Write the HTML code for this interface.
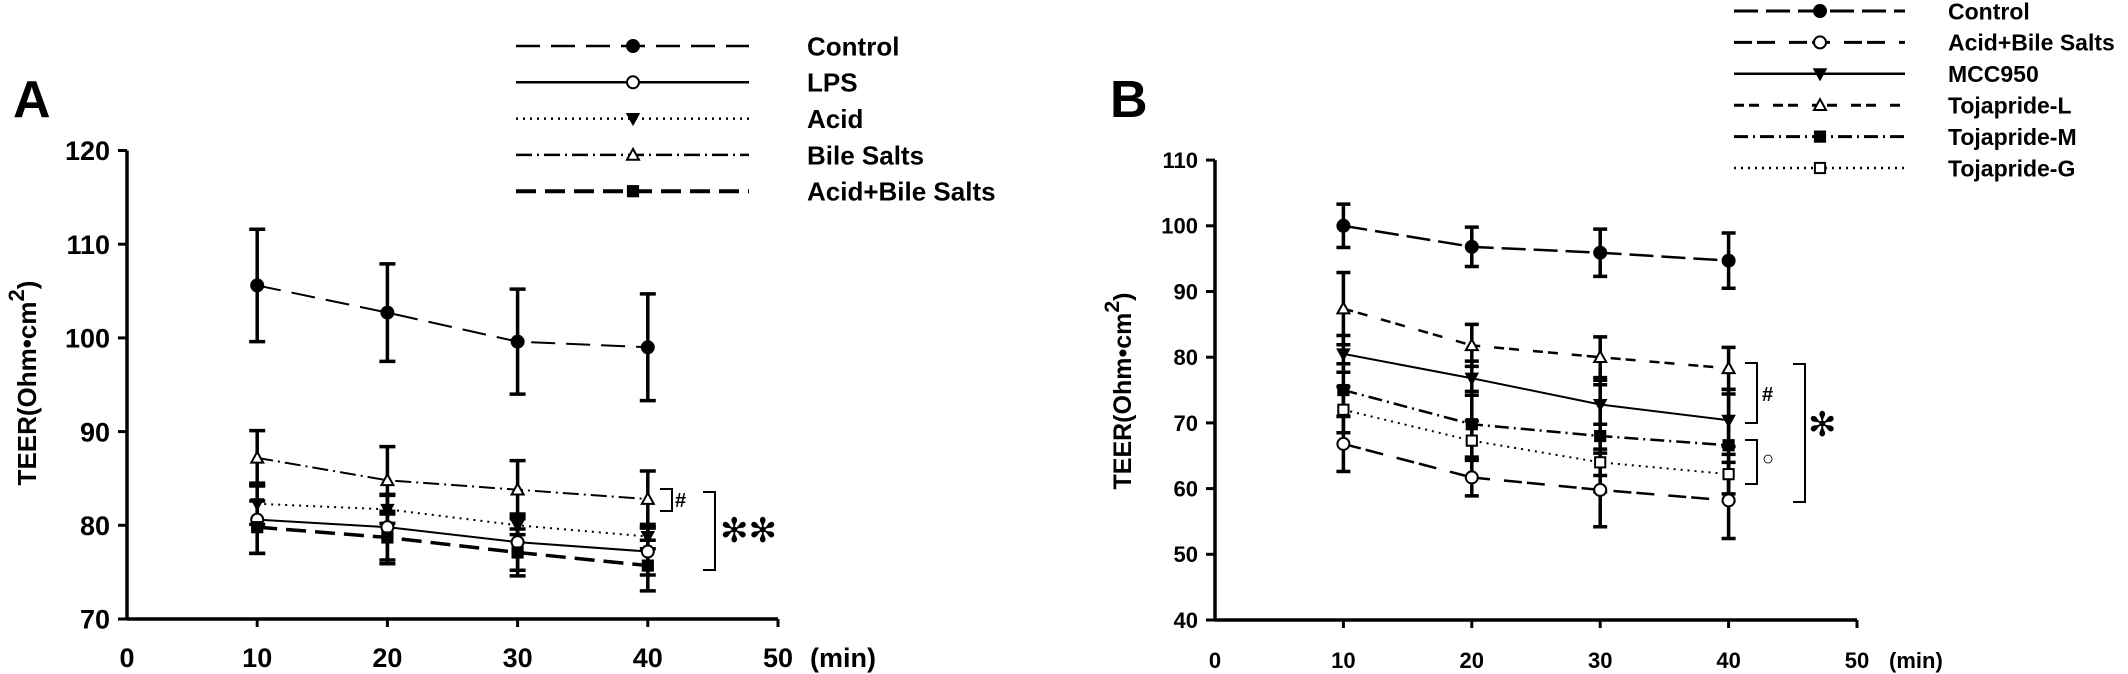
<!DOCTYPE html>
<html><head><meta charset="utf-8"><style>
html,body{margin:0;padding:0;background:#fff;}
svg{display:block;font-family:"Liberation Sans",Arial,sans-serif;font-weight:bold;}
</style></head><body>
<svg id="chart" width="2128" height="674" viewBox="0 0 2128 674" xmlns="http://www.w3.org/2000/svg">
<g id="panelA"></g>
<g id="panelB"></g>
</svg>
<script>
const NS="http://www.w3.org/2000/svg";
// ---- data (panel A) ----
const timesA=[10,20,30,40];
const ticksAY=[70,80,90,100,110,120];
const ticksX=[0,10,20,30,40,50];
const controlA=[105.6,102.7,99.6,99.0];
const controlAErr=[6.0,5.2,5.6,5.7];
const lpsA=[80.6,79.8,78.2,77.2];
const lpsAErr=[3.6,3.5,3.0,2.5];
const acidA=[82.3,81.7,80.0,78.8];
const acidAErr=[2.2,1.5,1.0,1.3];
const bileA=[87.2,84.8,83.8,82.8];
const bileAErr=[2.9,3.6,3.1,3.0];
const abA=[79.8,78.7,77.1,75.7];
const abAErr=[2.8,2.8,2.5,2.7];
// ---- data (panel B) ----
const timesB=[10,20,30,40];
const ticksBY=[40,50,60,70,80,90,100,110];
const controlB=[100.0,96.8,95.9,94.7];
const controlBErr=[3.3,3.0,3.6,4.2];
const abB=[66.8,61.7,59.8,58.2];
const abBErr=[4.2,2.8,5.6,5.8];
const mccB=[80.5,76.8,72.8,70.4];
const mccBErr=[2.8,2.6,3.0,4.0];
const tojLB=[87.4,81.8,80.0,78.3];
const tojLBErr=[5.5,3.2,3.1,3.2];
const tojMB=[75.0,69.8,68.0,66.6];
const tojMBErr=[4.0,5.0,8.5,8.5];
const tojGB=[72.0,67.3,64.0,62.2];
const tojGBErr=[3.5,3.0,2.0,3.0];

function el(tag,attrs,parent){const e=document.createElementNS(NS,tag);for(const k in attrs)e.setAttribute(k,attrs[k]);parent.appendChild(e);return e;}

function marker(g,type,cx,cy,s){
  let m;
  if(type==='fcircle'||type==='ocircle'){m=el('circle',{cx:cx,cy:cy,r:s,fill:type==='fcircle'?'#000':'#fff',stroke:'#000','stroke-width':2},g);}
  else if(type==='ftridown'){m=el('polygon',{points:`${cx-s},${cy-s*0.8} ${cx+s},${cy-s*0.8} ${cx},${cy+s}`,fill:'#000',stroke:'#000','stroke-width':1.5},g);}
  else if(type==='otri'){m=el('polygon',{points:`${cx-s},${cy+s*0.8} ${cx+s},${cy+s*0.8} ${cx},${cy-s}`,fill:'#fff',stroke:'#000','stroke-width':2},g);}
  else if(type==='fsquare'||type==='osquare'){m=el('rect',{x:cx-s*0.85,y:cy-s*0.85,width:s*1.7,height:s*1.7,fill:type==='fsquare'?'#000':'#fff',stroke:'#000','stroke-width':2},g);}
  return m;
}

function drawPanel(g,cfg){
  const X=v=>cfg.x0+(v-0)*cfg.sx;
  const Y=v=>cfg.yBase-(v-cfg.yMin)*cfg.sy;
  // axes
  const ax=el('line',{x1:cfg.x0,y1:Y(cfg.yTicks[cfg.yTicks.length-1]),x2:cfg.x0,y2:cfg.yBase,stroke:'#000','stroke-width':3.5},g);
  
  const axx=el('line',{x1:cfg.x0,y1:cfg.yBase,x2:X(50),y2:cfg.yBase,stroke:'#000','stroke-width':3.5},g);
  
  cfg.yTicks.forEach(t=>{
    const tk=el('line',{x1:cfg.x0-9,y1:Y(t),x2:cfg.x0,y2:Y(t),stroke:'#000','stroke-width':3},g);
    
    const tx=el('text',{x:cfg.x0-17,y:Y(t)+cfg.tickFont*0.36,'text-anchor':'end','font-size':cfg.tickFont},g);
    tx.textContent=t;
    
  });
  ticksX.forEach(t=>{
    if(t>0){const tk=el('line',{x1:X(t),y1:cfg.yBase,x2:X(t),y2:cfg.yBase+8,stroke:'#000','stroke-width':3},g);
    }
    const tx=el('text',{x:X(t),y:cfg.yBase+48,'text-anchor':'middle','font-size':cfg.tickFont},g);
    tx.textContent=t;
    
  });
  const mn=el('text',{x:X(50)+32,y:cfg.yBase+48,'font-size':cfg.tickFont},g);
  mn.textContent='(min)';
  
  // y title
  const yt=el('text',{x:0,y:0,'text-anchor':'middle','font-size':cfg.titleFont,transform:`translate(${cfg.ytX},${cfg.ytY}) rotate(-90)`},g);
  yt.innerHTML='TEER(Ohm•cm<tspan dy="-12" font-size="'+(cfg.titleFont*0.85)+'">2</tspan><tspan dy="12">)</tspan>';
  
  // panel letter
  const pl=el('text',{x:cfg.letterX,y:117,'font-size':52},g);
  pl.textContent=cfg.letter;
  
  // error bars
  cfg.series.forEach(s=>{
    s.vals.forEach((v,i)=>{
      const x=X(cfg.times[i]);const t=Y(v+s.err[i]),b=Y(v-s.err[i]);
      const eb=el('path',{d:`M${x},${t}V${b}M${x-cfg.cap},${t}H${x+cfg.cap}M${x-cfg.cap},${b}H${x+cfg.cap}`,stroke:'#000','stroke-width':3.5,fill:'none'},g);
      
    });
  });
  // lines
  cfg.series.forEach(s=>{
    const pts=s.vals.map((v,i)=>X(cfg.times[i])+','+Y(v)).join(' ');
    const ln=el('polyline',{points:pts,fill:'none',stroke:'#000','stroke-width':s.w,'stroke-dasharray':s.dash},g);
    
  });
  // markers
  cfg.series.forEach(s=>{
    s.vals.forEach((v,i)=>{
      const m=marker(g,s.marker,X(cfg.times[i]),Y(v),cfg.ms);
      
    });
  });
  // legend
  cfg.series.slice().sort((a,b)=>a.legendRow-b.legendRow).forEach(s=>{
    const ly=cfg.legY0+s.legendRow*cfg.legDy;
    const lg=el('g',{},g);
    
    el('line',{x1:cfg.legX1,y1:ly,x2:cfg.legX2,y2:ly,stroke:'#000','stroke-width':s.w+0.5,'stroke-dasharray':s.dash},lg);
    marker(lg,s.marker,cfg.legM,ly,cfg.ms);
    const lt=el('text',{x:cfg.legText,y:ly+cfg.legFont*0.36,'font-size':cfg.legFont},lg);
    lt.textContent=s.label;
  });
}

drawPanel(document.getElementById('panelA'),{
  letter:'A',letterX:13,x0:127,sx:13.02,yBase:619,yMin:70,sy:9.37,yTicks:ticksAY,times:timesA,
  tickFont:27,titleFont:26,ytX:36,ytY:383,cap:8,ms:6,
  legY0:46,legDy:36.3,legX1:516,legX2:749,legM:633,legText:807,legFont:26,
  series:[
    {key:'control',label:'Control',vals:controlA,err:controlAErr,marker:'fcircle',dash:'24 11',w:2,legendRow:0},
    {key:'lps',label:'LPS',vals:lpsA,err:lpsAErr,marker:'ocircle',dash:'none',w:2,legendRow:1},
    {key:'acid',label:'Acid',vals:acidA,err:acidAErr,marker:'ftridown',dash:'2 5',w:2,legendRow:2},
    {key:'bile-salts',label:'Bile Salts',vals:bileA,err:bileAErr,marker:'otri',dash:'16 5 2 5',w:2,legendRow:3},
    {key:'acid-bile-salts',label:'Acid+Bile Salts',vals:abA,err:abAErr,marker:'fsquare',dash:'20 9',w:3.5,legendRow:4}
  ]
});
drawPanel(document.getElementById('panelB'),{
  letter:'B',letterX:1110,x0:1215,sx:12.84,yBase:620,yMin:40,sy:6.57,yTicks:ticksBY,times:timesB,
  tickFont:22,titleFont:25,ytX:1131,ytY:391,cap:7,ms:6,
  legY0:11,legDy:31.4,legX1:1734,legX2:1905,legM:1820,legText:1948,legFont:23,
  series:[
    {key:'control',label:'Control',vals:controlB,err:controlBErr,marker:'fcircle',dash:'24 8',w:2.5,legendRow:0},
    {key:'acid-bile-salts',label:'Acid+Bile Salts',vals:abB,err:abBErr,marker:'ocircle',dash:'18 5 18 14',w:2.5,legendRow:1},
    {key:'mcc950',label:'MCC950',vals:mccB,err:mccBErr,marker:'ftridown',dash:'none',w:2,legendRow:2},
    {key:'tojapride-l',label:'Tojapride-L',vals:tojLB,err:tojLBErr,marker:'otri',dash:'10 5 10 14',w:2.5,legendRow:3},
    {key:'tojapride-m',label:'Tojapride-M',vals:tojMB,err:tojMBErr,marker:'fsquare',dash:'14 5 2 5',w:2.5,legendRow:4},
    {key:'tojapride-g',label:'Tojapride-G',vals:tojGB,err:tojGBErr,marker:'osquare',dash:'2 5',w:2,legendRow:5}
  ]
});
</script>
<svg width="0" height="0" style="position:absolute"></svg>
<script>
(function(){
  const s=document.getElementById('chart');
  function add(tag,attrs,name,txt){const e=document.createElementNS(NS,tag);for(const k in attrs)e.setAttribute(k,attrs[k]);if(txt)e.textContent=txt;s.appendChild(e);
    
    return e;}
  // panel A annotations
  add('path',{d:'M660,489H672V511H660',fill:'none',stroke:'#000','stroke-width':2},'bracket-hash-a');
  add('text',{x:675,y:507,'font-size':20},'sig-hash-a','#');
  add('path',{d:'M703,492H715V570H703',fill:'none',stroke:'#000','stroke-width':2},'bracket-double-star-a');
  add('text',{x:720,y:542,'font-size':34,'font-family':'DejaVu Sans, sans-serif','font-weight':'normal'},'sig-double-star-a','✻✻');
  // panel B annotations
  add('path',{d:'M1745,363H1757V423H1745',fill:'none',stroke:'#000','stroke-width':2},'bracket-hash-b');
  add('text',{x:1762,y:401,'font-size':20},'sig-hash-b','#');
  add('path',{d:'M1745,440H1757V484H1745',fill:'none',stroke:'#000','stroke-width':2},'bracket-circle-b');
  add('text',{x:1762,y:465,'font-size':20,'font-weight':'normal'},'sig-circle-b','○');
  add('path',{d:'M1793,364H1805V502H1793',fill:'none',stroke:'#000','stroke-width':2},'bracket-star-b');
  add('text',{x:1808,y:436,'font-size':34,'font-family':'DejaVu Sans, sans-serif','font-weight':'normal'},'sig-star-b','✻');
})();
</script>
</body></html>
